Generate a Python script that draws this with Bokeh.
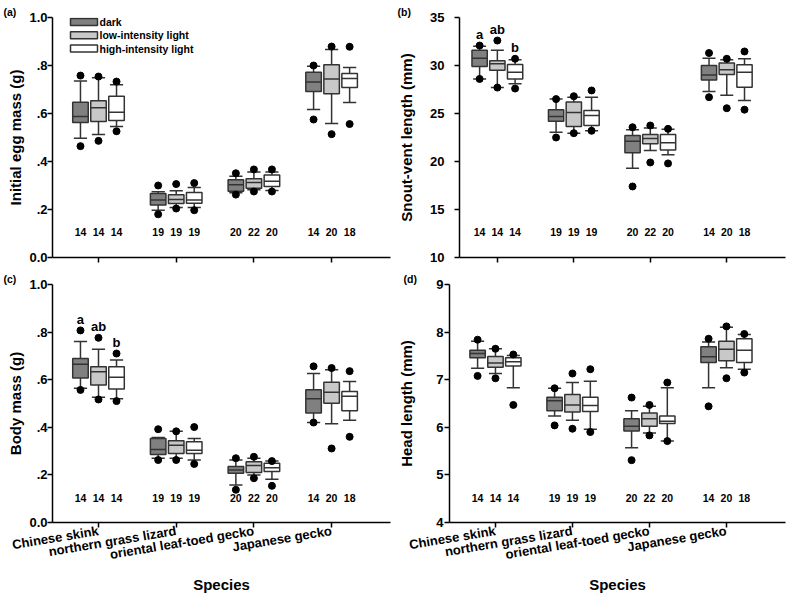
from bokeh.plotting import figure
from bokeh.layouts import column, row
from bokeh.models import (ColumnDataSource, FixedTicker, CustomJSTickFormatter, Range1d,
                          CustomLabelingPolicy)
from bokeh.core.properties import value
from bokeh.embed import file_html
from bokeh.resources import INLINE

# ---------------- data ----------------
species = ["Chinese skink", "northern grass lizard", "oriental leaf-toed gecko", "Japanese gecko"]
treatments = ["dark", "low-intensity light", "high-intensity light"]
sample_sizes = [14, 14, 14, 19, 19, 19, 20, 22, 20, 14, 20, 18]

# (a) Initial egg mass (g)   order: species x (dark, low, high)
egg_whi = [0.735, 0.749, 0.720, 0.274, 0.278, 0.292, 0.339, 0.356, 0.356, 0.797, 0.867, 0.792]
egg_q3 = [0.647, 0.653, 0.672, 0.267, 0.261, 0.271, 0.324, 0.328, 0.344, 0.772, 0.803, 0.767]
egg_med = [0.588, 0.624, 0.605, 0.240, 0.242, 0.240, 0.303, 0.313, 0.318, 0.731, 0.744, 0.746]
egg_q1 = [0.562, 0.567, 0.571, 0.219, 0.225, 0.226, 0.276, 0.289, 0.296, 0.692, 0.682, 0.708]
egg_wlo = [0.497, 0.512, 0.546, 0.197, 0.208, 0.208, 0.270, 0.282, 0.279, 0.617, 0.558, 0.646]
egg_out_hi = [0.758, 0.754, 0.733, 0.300, 0.306, 0.310, 0.351, 0.367, 0.367, 0.800, 0.879, 0.878]
egg_out_lo = [0.464, 0.486, 0.526, 0.180, 0.204, 0.197, 0.262, 0.275, 0.275, 0.575, 0.514, 0.556]

# (b) Snout-vent length (mm)
svl_whi = [32.0, 31.6, 30.6, 26.5, 26.7, 26.7, 23.3, 23.5, 23.35, 30.76, 30.6, 30.7]
svl_q3 = [31.6, 30.5, 30.1, 25.4, 26.2, 25.3, 22.7, 22.8, 22.8, 30.0, 30.25, 30.07]
svl_med = [30.76, 30.17, 29.3, 24.7, 25.1, 24.8, 22.1, 22.4, 21.95, 29.0, 29.55, 29.3]
svl_q1 = [29.9, 29.5, 28.6, 24.2, 23.65, 23.75, 20.9, 21.85, 21.2, 28.5, 29.06, 27.74]
svl_wlo = [28.6, 27.7, 28.1, 23.05, 22.95, 23.2, 19.3, 21.15, 20.7, 27.3, 26.9, 26.35]
svl_out_hi = [32.08, 32.6, 30.7, 26.5, 26.8, 27.4, 23.57, 23.75, 23.4, 31.3, 30.7, 31.46]
svl_out_lo = [28.6, 27.7, 27.6, 22.5, 22.95, 23.2, 17.4, 19.9, 19.8, 26.7, 25.55, 25.4]
svl_letters = ["a", "ab", "b", "", "", "", "", "", "", "", "", ""]

# (c) Body mass (g)
bm_whi = [0.760, 0.728, 0.683, 0.357, 0.383, 0.353, 0.2625, 0.270, 0.258, 0.626, 0.642, 0.592]
bm_q3 = [0.689, 0.654, 0.654, 0.353, 0.343, 0.339, 0.235, 0.255, 0.249, 0.558, 0.589, 0.550]
bm_med = [0.665, 0.633, 0.610, 0.307, 0.325, 0.304, 0.221, 0.239, 0.230, 0.520, 0.547, 0.530]
bm_q1 = [0.607, 0.578, 0.561, 0.286, 0.290, 0.290, 0.207, 0.210, 0.214, 0.460, 0.501, 0.470]
bm_wlo = [0.564, 0.526, 0.520, 0.270, 0.270, 0.2625, 0.158, 0.200, 0.182, 0.420, 0.415, 0.430]
bm_out_hi = [0.807, 0.776, 0.710, 0.392, 0.383, 0.401, 0.270, 0.276, 0.258, 0.656, 0.649, 0.636]
bm_out_lo = [0.557, 0.517, 0.510, 0.2625, 0.2625, 0.246, 0.1375, 0.186, 0.154, 0.420, 0.311, 0.360]
bm_letters = ["a", "ab", "b", "", "", "", "", "", "", "", "", ""]

# (d) Head length (mm)
hl_whi = [7.81, 7.65, 7.51, 6.82, 6.94, 6.97, 6.35, 6.44, 6.83, 7.79, 8.10, 7.95]
hl_q3 = [7.62, 7.49, 7.46, 6.63, 6.69, 6.63, 6.18, 6.30, 6.24, 7.69, 7.81, 7.86]
hl_med = [7.55, 7.35, 7.375, 6.56, 6.47, 6.46, 6.02, 6.18, 6.125, 7.48, 7.64, 7.62]
hl_q1 = [7.46, 7.26, 7.29, 6.35, 6.32, 6.33, 5.92, 6.02, 6.08, 7.36, 7.40, 7.36]
hl_wlo = [7.24, 7.13, 6.83, 6.24, 6.15, 5.96, 5.57, 5.88, 5.71, 6.83, 7.25, 7.22]
hl_out_hi = [7.84, 7.65, 7.53, 6.82, 7.13, 7.22, 6.625, 6.47, 6.94, 7.86, 8.12, 7.96]
hl_out_lo = [7.08, 7.03, 6.47, 6.04, 5.97, 5.90, 5.31, 5.83, 5.71, 6.44, 7.03, 7.15]

# ---------------- style ----------------
FONT = "Liberation Sans"
EDGE = "#333333"
FILLS = ["#808080", "#c8c8c8", "#ffffff"]
OFFSETS = [-0.232, 0.0, 0.232]
BOX_W = 0.20
CAP_W = 0.17

HIDE_LABELS = CustomLabelingPolicy(code="""
    try { for (const i of indices) { indices.unset(i) } } catch (e) {}
    return indices
""")


def make_panel(tag, tag_offset, ylabel, ylim, yticks, stats, letters, xlim, geom,
               show_xlabels, legend=False, fmt_dec=False, lab_standoff=0, axlab_standoff=2):
    whi, q3, med, q1, wlo, ohi, olo = stats
    width, height, bl, br, bt, bb = geom
    p = figure(width=width, height=height, output_backend="svg", toolbar_location=None,
               x_range=Range1d(*xlim), y_range=Range1d(*ylim),
               min_border_left=bl, min_border_right=br, min_border_top=bt, min_border_bottom=bb)
    p.outline_line_color = None
    p.xgrid.visible = False
    p.ygrid.visible = False
    p.background_fill_color = "white"
    p.border_fill_color = "white"

    # panel tag as a left-aligned title pushed into the left border
    p.title.text = tag
    p.title.align = "left"
    p.title.offset = tag_offset
    p.title.standoff = 0
    p.title.text_font = FONT
    p.title.text_font_style = "bold"
    p.title.text_font_size = "10.5px"
    p.title.text_color = "black"

    xs, fills = [], []
    for i in range(len(species)):
        for t in range(len(treatments)):
            xs.append(i + 1 + OFFSETS[t])
            fills.append(FILLS[t])
    src = ColumnDataSource(dict(
        x=xs, whi=whi, q3=q3, med=med, q1=q1, wlo=wlo, ohi=ohi, olo=olo, fill=fills,
        bl=[x - BOX_W / 2 for x in xs], br=[x + BOX_W / 2 for x in xs],
        cl=[x - CAP_W / 2 for x in xs], cr=[x + CAP_W / 2 for x in xs],
        n=[str(v) for v in sample_sizes],
        ny=[ylim[0] + 0.105 * (ylim[1] - ylim[0])] * len(xs),
    ))
    # whiskers
    p.segment(x0="x", y0="q3", x1="x", y1="whi", source=src, line_color=EDGE, line_width=1.5)
    p.segment(x0="x", y0="q1", x1="x", y1="wlo", source=src, line_color=EDGE, line_width=1.5)
    p.segment(x0="cl", y0="whi", x1="cr", y1="whi", source=src, line_color=EDGE, line_width=1.5)
    p.segment(x0="cl", y0="wlo", x1="cr", y1="wlo", source=src, line_color=EDGE, line_width=1.5)
    # boxes
    p.vbar(x="x", width=BOX_W, top="q3", bottom="q1", source=src, fill_color="fill",
           line_color=EDGE, line_width=1.5)
    p.segment(x0="bl", y0="med", x1="br", y1="med", source=src, line_color=EDGE, line_width=1.5)
    # outliers
    p.scatter(x="x", y="ohi", source=src, size=7, color="black")
    p.scatter(x="x", y="olo", source=src, size=7, color="black")
    # sample sizes
    p.text(x="x", y="ny", text="n", source=src, text_font=value(FONT), text_font_style="bold",
           text_font_size="10.5px", text_align="center", text_baseline="middle", text_color="black")
    if letters:
        keep = [k for k, s in enumerate(letters) if s]
        lsrc = ColumnDataSource(dict(x=[xs[k] for k in keep], y=[ohi[k] for k in keep],
                                     t=[letters[k] for k in keep]))
        p.text(x="x", y="y", text="t", source=lsrc, y_offset=-11, text_font=value(FONT),
               text_font_style="bold", text_font_size="13px", text_align="center",
               text_baseline="middle", text_color="black")

    # axes
    xa = p.xaxis[0]
    ya = p.yaxis[0]
    xa.ticker = FixedTicker(ticks=[1, 2, 3, 4])
    ya.ticker = FixedTicker(ticks=yticks)
    if fmt_dec:
        ya.formatter = CustomJSTickFormatter(code="""
            if (Math.abs(tick) < 1e-9) return '0.0';
            if (Math.abs(tick - 1) < 1e-9) return '1.0';
            return tick.toFixed(1).replace(/^0/, '');
        """)
    for ax in (xa, ya):
        ax.axis_line_color = "black"
        ax.axis_line_width = 1.5
        ax.major_tick_line_color = "black"
        ax.major_tick_line_width = 1.5
        ax.major_tick_out = 5
        ax.major_tick_in = 0
        ax.minor_tick_out = 0
        ax.minor_tick_in = 0
        ax.major_label_text_font = FONT
        ax.major_label_text_font_style = "bold"
        ax.major_label_text_font_size = "13px"
        ax.major_label_text_color = "black"
        ax.axis_label_text_font = FONT
        ax.axis_label_text_font_style = "bold"
        ax.axis_label_text_font_size = "15px"
        ax.axis_label_text_color = "black"
    ya.axis_label = ylabel
    ya.major_label_standoff = lab_standoff
    ya.axis_label_standoff = axlab_standoff
    if show_xlabels:
        xa.major_label_overrides = {i + 1: s for i, s in enumerate(species)}
        xa.major_label_orientation = 0.165
        xa.major_label_standoff = 3
        xa.axis_label = "Species"
        xa.axis_label_standoff = 4
    else:
        xa.major_label_policy = HIDE_LABELS
        xa.major_label_text_font_size = "0px"
        xa.major_label_standoff = 0

    if legend:
        # legend drawn in the upper-left corner of the frame
        xscale = (width - bl - br) / (xlim[1] - xlim[0])
        yscale = (height - bt - bb) / (ylim[1] - ylim[0])
        sw_left = xlim[0] + 18 / xscale
        sw_right = xlim[0] + 45 / xscale
        for t, name in enumerate(treatments):
            cy = ylim[1] - (4.5 + 13.3 * t) / yscale
            hh = 3.5 / yscale
            p.quad(left=[sw_left], right=[sw_right], top=[cy + hh], bottom=[cy - hh],
                   fill_color=FILLS[t], line_color=EDGE, line_width=1.5)
            p.text(x=[xlim[0] + 47 / xscale], y=[cy], text=[name], text_font=value(FONT),
                   text_font_style="bold", text_font_size="10.5px", text_baseline="middle",
                   text_align="left", text_color="black")
    return p


pa = make_panel("(a)", -49, "Initial egg mass (g)", (0.0, 1.0), [0, 0.2, 0.4, 0.6, 0.8, 1.0],
                (egg_whi, egg_q3, egg_med, egg_q1, egg_wlo, egg_out_hi, egg_out_lo), None,
                (0.408, 4.758), (395, 270, 52, 5, 17, 13), False, legend=True, fmt_dec=True)
pb = make_panel("(b)", -62, "Snout-vent length (mm)", (10, 35), [10, 15, 20, 25, 30, 35],
                (svl_whi, svl_q3, svl_med, svl_q1, svl_wlo, svl_out_hi, svl_out_lo), svl_letters,
                (0.505, 4.768), (392, 270, 63, 2, 17, 13), False, lab_standoff=10, axlab_standoff=12)
pc = make_panel("(c)", -49, "Body mass (g)", (0.0, 1.0), [0, 0.2, 0.4, 0.6, 0.8, 1.0],
                (bm_whi, bm_q3, bm_med, bm_q1, bm_wlo, bm_out_hi, bm_out_lo), bm_letters,
                (0.408, 4.758), (395, 327, 52, 5, 13, 74), True, fmt_dec=True)
pd_ = make_panel("(d)", -46, "Head length (mm)", (4, 9), [4, 5, 6, 7, 8, 9],
                 (hl_whi, hl_q3, hl_med, hl_q1, hl_wlo, hl_out_hi, hl_out_lo), None,
                 (0.403, 4.767), (392, 327, 54, 2, 12, 75), True, lab_standoff=1, axlab_standoff=18)

layout = column(row(pa, pb, spacing=0), row(pc, pd_, spacing=0), spacing=0)
open("out.html", "w").write(file_html(layout, INLINE))
